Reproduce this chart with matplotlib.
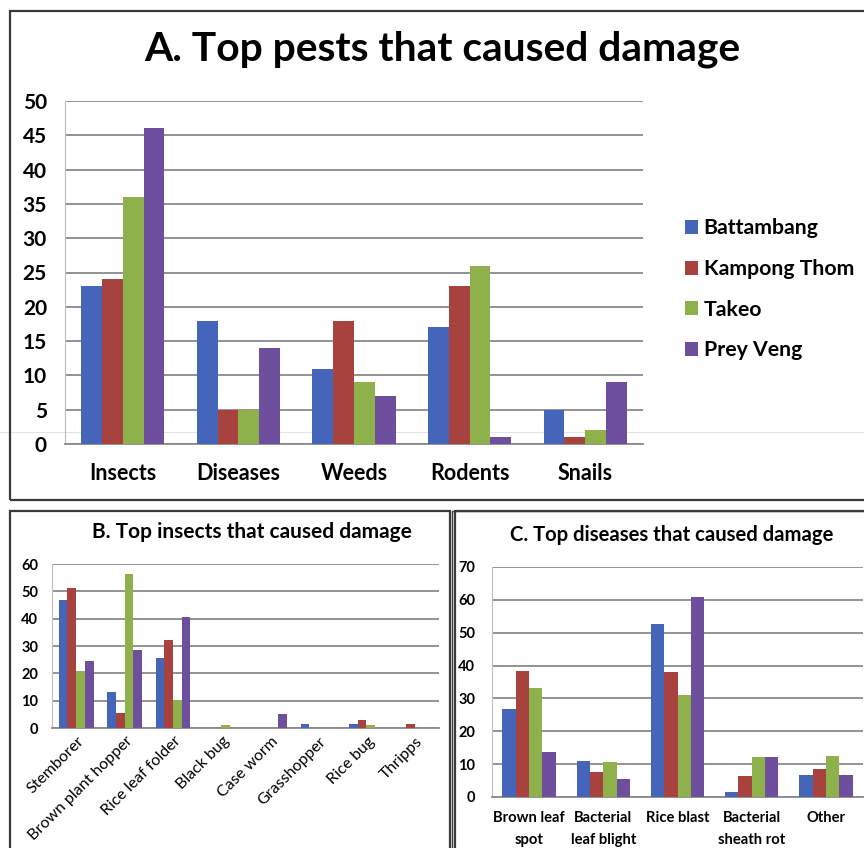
import numpy as np
import matplotlib
matplotlib.use("Agg")
import matplotlib.pyplot as plt
from matplotlib.patches import Rectangle
from matplotlib.lines import Line2D
from matplotlib.transforms import ScaledTranslation

plt.rcParams['font.family'] = ['Lato', 'DejaVu Sans']

provinces = ['Battambang', 'Kampong Thom', 'Takeo', 'Prey Veng']
colors = ['#4465b9', '#a8423e', '#8fb14b', '#6e4f9e']

# A. pests
pests = ['Insects', 'Diseases', 'Weeds', 'Rodents', 'Snails']
battambang_a = [23, 18, 11, 17, 5]
kampong_a = [24, 5, 18, 23, 1]
takeo_a = [36, 5, 9, 26, 2]
preyveng_a = [46, 14, 7, 1, 9]

# B. insects
insects = ['Stemborer', 'Brown plant hopper', 'Rice leaf folder', 'Black bug',
           'Case worm', 'Grasshopper', 'Rice bug', 'Thripps']
battambang_b = [47, 13, 25.6, 0, 0, 1.5, 1.5, 0]
kampong_b = [51.3, 5.6, 32.3, 0, 0, 0, 3, 1.5]
takeo_b = [21, 56.5, 10.4, 1, 0, 0, 1, 0]
preyveng_b = [24.6, 28.6, 40.5, 0, 5.2, 0, 0, 0]

# C. diseases
diseases = ['Brown leaf\nspot', 'Bacterial\nleaf blight', 'Rice blast',
            'Bacterial\nsheath rot', 'Other']
battambang_c = [26.8, 11.1, 52.6, 1.4, 6.7]
kampong_c = [38.4, 7.7, 38.1, 6.3, 8.4]
takeo_c = [33.1, 10.7, 30.9, 12.2, 12.5]
preyveng_c = [13.8, 5.5, 61, 12.2, 6.7]

W, H = 864, 848
fig = plt.figure(figsize=(W / 100, H / 100), dpi=100)


def box(x0, y0, x1, y1):
    # rectangle in pixel coords (y from top)
    return [x0 / W, 1 - y1 / H, (x1 - x0) / W, (y1 - y0) / H]


def frame(x0, y0, x1, y1, lw=1.6):
    fig.patches.append(Rectangle((x0 / W, 1 - y1 / H), (x1 - x0) / W, (y1 - y0) / H,
                                 transform=fig.transFigure, fill=False,
                                 edgecolor='#3a3a3a', linewidth=lw, zorder=0))


frame(10, 11, 880, 500)
frame(10, 511, 450, 870)
frame(455, 511, 880, 870)
frame(452, 511, 880, 870, lw=1.0)

# faint line across panel A
fig.add_artist(Line2D([0, 1], [1 - 432 / H, 1 - 432 / H], transform=fig.transFigure,
                      color='#e4e4e4', lw=0.8, zorder=0))


def grouped(ax, cats, series, ymax, step, fs_y, pad_y):
    x = np.arange(len(cats))
    w = 0.18
    for i, (vals, c) in enumerate(zip(series, colors)):
        ax.bar(x + (i - 1.5) * w, vals, w, color=c, zorder=3, label=provinces[i])
    ax.set_xlim(-0.5, len(cats) - 0.5)
    ax.set_ylim(0, ymax)
    ax.set_yticks(np.arange(0, ymax + 1, step))
    ax.yaxis.grid(True, color='#8a8a8a', lw=1.3, zorder=0)
    ax.set_axisbelow(True)
    for s in ['top', 'right']:
        ax.spines[s].set_visible(False)
    ax.spines['left'].set_color('#bdbdbd')
    ax.spines['left'].set_linewidth(0.8)
    ax.spines['bottom'].set_color('#8a8a8a')
    ax.spines['bottom'].set_linewidth(1.3)
    ax.tick_params(axis='both', length=0)
    ax.tick_params(axis='y', labelsize=fs_y, pad=pad_y)
    for t in ax.get_yticklabels():
        t.set_fontweight('bold')
    ax.set_facecolor('none')
    return x


# panel A
axA = fig.add_axes(box(65, 101, 643, 444))
xa = grouped(axA, pests, [battambang_a, kampong_a, takeo_a, preyveng_a], 50, 5, 15, 13)
axA.set_xticks(xa)
axA.set_xticklabels(pests, fontsize=15.5, fontweight='bold')
axA.tick_params(axis='x', pad=14)
fig.text(442 / W, 1 - 49 / H, 'A. Top pests that caused damage', fontsize=29.3,
         fontweight='bold', ha='center', va='center')
axA.legend(loc='upper left', bbox_to_anchor=(676 / W, 1 - 210 / H),
           bbox_transform=fig.transFigure, frameon=False,
           prop={'weight': 'bold', 'size': 15.3},
           handlelength=0.65, handleheight=0.65, handletextpad=0.25,
           labelspacing=0.97, borderaxespad=0)

# panel B
axB = fig.add_axes(box(52, 564, 439, 728))
xb = grouped(axB, insects, [battambang_b, kampong_b, takeo_b, preyveng_b], 60, 10, 10.5, 10)
axB.set_xticks(xb)
axB.set_xticklabels(insects, fontsize=11.5, rotation=45, ha='right', va='center',
                    rotation_mode='anchor')
axB.tick_params(axis='x', pad=8)
shift = ScaledTranslation(6 / 100, 0, fig.dpi_scale_trans)
for t in axB.get_xticklabels():
    t.set_transform(t.get_transform() + shift)
fig.text(252 / W, 1 - 532 / H, 'B. Top insects that caused damage', fontsize=15,
         fontweight='bold', ha='center', va='center')

# panel C
axC = fig.add_axes(box(492, 567, 863, 797))
xc = grouped(axC, diseases, [battambang_c, kampong_c, takeo_c, preyveng_c], 70, 10, 10.5, 12)
axC.set_xticks(xc)
axC.set_xticklabels(diseases, fontsize=10.6, fontweight='bold', linespacing=1.7)
axC.tick_params(axis='x', pad=10)
fig.text(672 / W, 1 - 535 / H, 'C. Top diseases that caused damage', fontsize=14.6,
         fontweight='bold', ha='center', va='center')

fig.savefig('out.png', dpi=100)
